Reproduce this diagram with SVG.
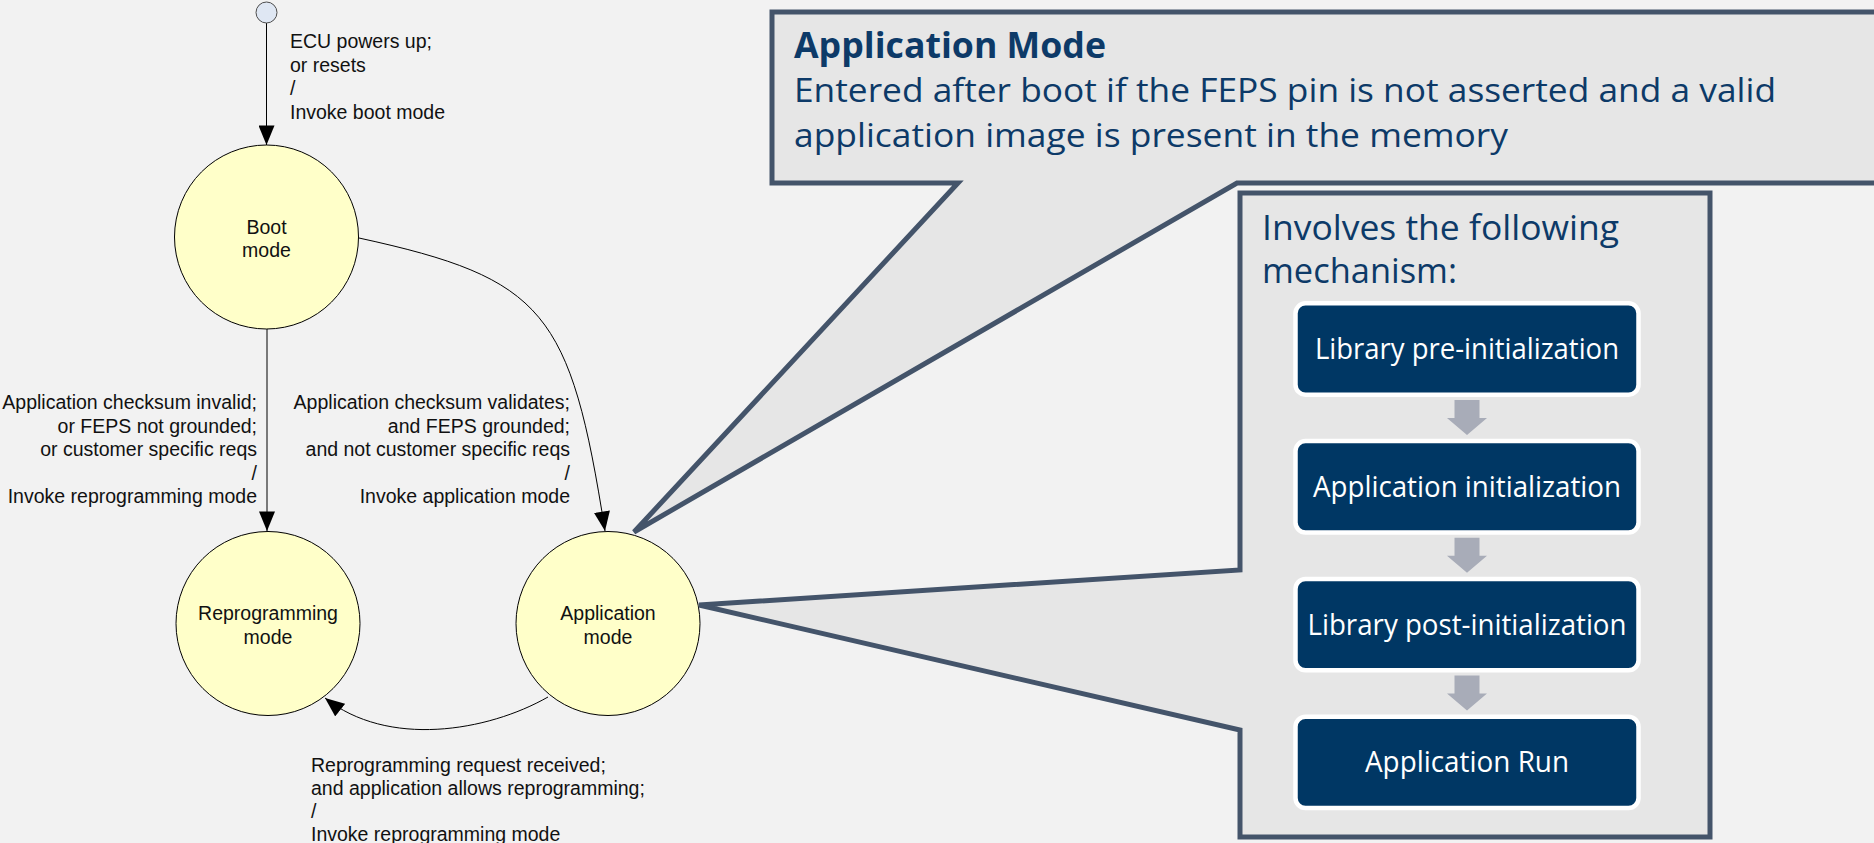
<svg xmlns="http://www.w3.org/2000/svg" width="1874" height="843" viewBox="0 0 1874 843">
<style>
.lbl{font-family:"Liberation Sans",Arial,sans-serif;font-size:19.5px;fill:#111}
.st{fill:#ffffc9;stroke:#000;stroke-width:1}
.conn{fill:none;stroke:#000;stroke-width:1}
.co{fill:#e6e6e6;stroke:#44546a;stroke-width:5;stroke-linejoin:miter}
.ct{font-family:"Open Sans","Noto Sans",sans-serif;fill:#0d3a68}
.box{fill:#003764;stroke:#fff;stroke-width:4.5}
.bt{font-family:"Open Sans","Noto Sans",sans-serif;font-size:28.5px;fill:#fff;text-anchor:middle}
.ga{fill:#a8acb8}
</style>
<defs>
<marker id="ah" markerUnits="userSpaceOnUse" markerWidth="20" markerHeight="16" refX="17" refY="7" orient="auto" viewBox="0 0 17 14">
<path d="M0,0 L17,7 L0,14 Z" fill="#000"/>
</marker>
</defs>
<rect x="0" y="0" width="1874" height="843" fill="#f2f2f2"/>

<g id="connectors">
<line class="conn" x1="266.5" y1="23" x2="266.5" y2="145" marker-end="url(#ah)"/>
<line class="conn" x1="267" y1="329" x2="267" y2="531" marker-end="url(#ah)"/>
<path class="conn" d="M359,238 C544.6,278.5 570.5,311 605,531" marker-end="url(#ah)"/>
<path class="conn" d="M548,697 C487.2,731.7 387.5,748 325,698" marker-end="url(#ah)"/>
</g>

<g id="labels">
<text class="lbl" x="290" y="48">ECU powers up;</text>
<text class="lbl" x="290" y="71.5">or resets</text>
<text class="lbl" x="290" y="95">/</text>
<text class="lbl" x="290" y="118.5">Invoke boot mode</text>
<g text-anchor="end">
<text class="lbl" x="257" y="409">Application checksum invalid;</text>
<text class="lbl" x="257" y="432.5">or FEPS not grounded;</text>
<text class="lbl" x="257" y="456">or customer specific reqs</text>
<text class="lbl" x="257" y="479.5">/</text>
<text class="lbl" x="257" y="503">Invoke reprogramming mode</text>
<text class="lbl" x="570" y="409">Application checksum validates;</text>
<text class="lbl" x="570" y="432.5">and FEPS grounded;</text>
<text class="lbl" x="570" y="456">and not customer specific reqs</text>
<text class="lbl" x="570" y="479.5">/</text>
<text class="lbl" x="570" y="503">Invoke application mode</text>
</g>
<text class="lbl" x="311" y="772">Reprogramming request received;</text>
<text class="lbl" x="311" y="795">and application allows reprogramming;</text>
<text class="lbl" x="311" y="818">/</text>
<text class="lbl" x="311" y="841">Invoke reprogramming mode</text>
</g>

<g id="initial">
<circle cx="266.5" cy="12.5" r="10.5" fill="#dfe7f3" stroke="#4d4d4d" stroke-width="1"/>
</g>
<g id="boot">
<ellipse class="st" cx="266.5" cy="237" rx="92" ry="92"/>
<text class="lbl" x="266.5" y="233.5" text-anchor="middle">Boot</text>
<text class="lbl" x="266.5" y="257" text-anchor="middle">mode</text>
</g>
<g id="reprogramming">
<ellipse class="st" cx="268" cy="623.5" rx="92" ry="92"/>
<text class="lbl" x="268" y="620" text-anchor="middle">Reprogramming</text>
<text class="lbl" x="268" y="643.5" text-anchor="middle">mode</text>
</g>
<g id="application">
<ellipse class="st" cx="608" cy="623.5" rx="92" ry="92"/>
<text class="lbl" x="608" y="620" text-anchor="middle">Application</text>
<text class="lbl" x="608" y="643.5" text-anchor="middle">mode</text>
</g>

<g id="callout-application-mode">
<path class="co" d="M772,12 L1884,12 L1884,183 L1237,183 L634,532 L958,183 L772,183 Z"/>
<text class="ct" x="794" y="58" font-size="35" font-weight="bold" textLength="312" lengthAdjust="spacingAndGlyphs">Application Mode</text>
<text class="ct" x="794" y="102" font-size="32.5" textLength="982" lengthAdjust="spacingAndGlyphs">Entered after boot if the FEPS pin is not asserted and a valid</text>
<text class="ct" x="794" y="147" font-size="32.5" textLength="714" lengthAdjust="spacingAndGlyphs">application image is present in the memory</text>
</g>

<g id="callout-mechanism">
<path class="co" d="M1240,193 L1710,193 L1710,837 L1240,837 L1240,730 L699,605 L1240,570 Z"/>
<text class="ct" x="1262" y="240" font-size="35" textLength="357" lengthAdjust="spacingAndGlyphs">Involves the following</text>
<text class="ct" x="1262" y="283" font-size="35" textLength="195" lengthAdjust="spacingAndGlyphs">mechanism:</text>
</g>

<g id="step-library-pre-init">
<rect class="box" x="1295.5" y="303.3" width="343" height="91.4" rx="10"/>
<text class="bt" x="1467" y="359" textLength="304" lengthAdjust="spacingAndGlyphs">Library pre-initialization</text>
</g>
<g id="step-application-init">
<rect class="box" x="1295.5" y="441.1" width="343" height="91.4" rx="10"/>
<text class="bt" x="1467" y="497" textLength="308" lengthAdjust="spacingAndGlyphs">Application initialization</text>
</g>
<g id="step-library-post-init">
<rect class="box" x="1295.5" y="578.9" width="343" height="91.4" rx="10"/>
<text class="bt" x="1467" y="635" textLength="319" lengthAdjust="spacingAndGlyphs">Library post-initialization</text>
</g>
<g id="step-application-run">
<rect class="box" x="1295.5" y="716.7" width="343" height="91.4" rx="10"/>
<text class="bt" x="1467" y="772" textLength="204" lengthAdjust="spacingAndGlyphs">Application Run</text>
</g>

<g id="step-arrows">
<polygon class="ga" points="1454.5,400 1479.5,400 1479.5,418 1487,418 1467,435 1447,418 1454.5,418"/>
<polygon class="ga" points="1454.5,537.8 1479.5,537.8 1479.5,555.8 1487,555.8 1467,572.8 1447,555.8 1454.5,555.8"/>
<polygon class="ga" points="1454.5,675.6 1479.5,675.6 1479.5,693.6 1487,693.6 1467,710.6 1447,693.6 1454.5,693.6"/>
</g>
</svg>
